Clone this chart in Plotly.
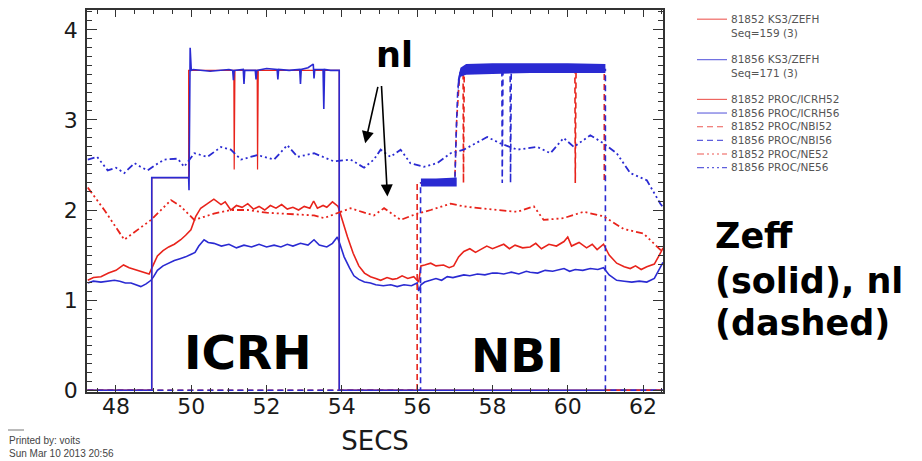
import plotly.graph_objects as go

# ---------------- data ----------------
names = ["81852 KS3/ZEFH", "81856 KS3/ZEFH", "81852 PROC/ICRH52", "81856 PROC/ICRH56",
         "81852 PROC/NBI52", "81856 PROC/NBI56", "81852 PROC/NE52", "81856 PROC/NE56"]
seq_labels = ["Seq=159 (3)", "Seq=171 (3)"]

zeff52_t = [47.25, 47.4, 47.6, 47.8, 48.0, 48.2, 48.35, 48.5, 48.7, 48.88, 49.0, 49.1, 49.25, 49.4,
            49.55, 49.72, 49.85, 49.99, 50.12, 50.25, 50.43, 50.6, 50.79, 50.9, 51.05, 51.2, 51.35,
            51.5, 51.65, 51.8, 51.95, 52.1, 52.25, 52.4, 52.55, 52.7, 52.85, 53.0, 53.15, 53.25, 53.35,
            53.5, 53.6, 53.75, 53.9, 54.0, 54.15, 54.3, 54.45, 54.6, 54.76, 54.9, 55.03, 55.2, 55.35,
            55.47, 55.6, 55.75, 55.91, 56.04, 56.1, 56.2, 56.36, 56.5, 56.7, 56.85, 56.97, 57.1, 57.24,
            57.4, 57.55, 57.68, 57.85, 58.0, 58.12, 58.3, 58.45, 58.6, 58.8, 59.0, 59.15, 59.3, 59.5,
            59.7, 59.9, 60.0, 60.1, 60.3, 60.5, 60.65, 60.78, 60.95, 61.1, 61.3, 61.5, 61.66, 61.8,
            61.95, 62.1, 62.3, 62.46, 62.53]
zeff52_v = [1.22, 1.25, 1.26, 1.30, 1.33, 1.39, 1.36, 1.34, 1.32, 1.29, 1.40, 1.49, 1.55, 1.59,
            1.62, 1.67, 1.72, 1.78, 1.93, 2.02, 2.07, 2.12, 2.06, 2.09, 2.00, 2.05, 2.03,
            2.07, 2.01, 2.04, 2.00, 2.05, 2.02, 2.06, 2.01, 2.03, 2.00, 2.04, 2.02, 2.10, 2.02,
            2.05, 2.03, 2.09, 2.04, 1.90, 1.70, 1.52, 1.38, 1.30, 1.26, 1.24, 1.22, 1.25, 1.23,
            1.24, 1.27, 1.24, 1.26, 1.20, 1.38, 1.39, 1.41, 1.38, 1.39, 1.36, 1.38, 1.48, 1.54,
            1.57, 1.53, 1.56, 1.60, 1.57, 1.59, 1.62, 1.57, 1.61, 1.58, 1.59, 1.63, 1.57, 1.62,
            1.60, 1.65, 1.70, 1.60, 1.64, 1.58, 1.62, 1.56, 1.62, 1.50, 1.41, 1.37, 1.35, 1.38,
            1.34, 1.37, 1.40, 1.52, 1.58]

zeff56_t = [47.25, 47.4, 47.6, 47.8, 47.96, 48.1, 48.25, 48.4, 48.55, 48.66, 48.8, 48.93, 49.0, 49.1,
            49.25, 49.4, 49.55, 49.7, 49.85, 50.0, 50.1, 50.2, 50.34, 50.45, 50.6, 50.8, 51.0, 51.2,
            51.4, 51.6, 51.8, 52.0, 52.2, 52.38, 52.55, 52.7, 52.9, 53.1, 53.26, 53.4, 53.6, 53.75,
            53.88, 53.95, 54.06, 54.2, 54.32, 54.45, 54.6, 54.76, 54.9, 55.1, 55.3, 55.47, 55.65,
            55.85, 56.0, 56.04, 56.1, 56.2, 56.36, 56.5, 56.65, 56.8, 56.95, 57.1, 57.24, 57.4, 57.6,
            57.8, 58.0, 58.12, 58.3, 58.5, 58.7, 58.9, 59.0, 59.2, 59.4, 59.6, 59.8, 59.9, 60.05,
            60.2, 60.4, 60.6, 60.8, 60.95, 61.1, 61.3, 61.5, 61.7, 61.9, 62.1, 62.3, 62.45, 62.53]
zeff56_v = [1.19, 1.21, 1.20, 1.21, 1.22, 1.21, 1.19, 1.19, 1.17, 1.15, 1.18, 1.22, 1.26, 1.33,
            1.38, 1.41, 1.44, 1.46, 1.48, 1.51, 1.53, 1.60, 1.67, 1.64, 1.63, 1.60, 1.62, 1.58,
            1.61, 1.59, 1.62, 1.59, 1.61, 1.59, 1.62, 1.60, 1.63, 1.61, 1.67, 1.61, 1.59, 1.63,
            1.70, 1.62, 1.48, 1.36, 1.27, 1.23, 1.20, 1.19, 1.17, 1.16, 1.17, 1.15, 1.17,
            1.16, 1.19, 1.10, 1.17, 1.20, 1.22, 1.24, 1.22, 1.26, 1.25, 1.27, 1.28, 1.27, 1.29,
            1.28, 1.30, 1.30, 1.29, 1.31, 1.29, 1.32, 1.31, 1.30, 1.33, 1.32, 1.34, 1.35, 1.32,
            1.34, 1.33, 1.35, 1.34, 1.36, 1.28, 1.22, 1.21, 1.20, 1.21, 1.20, 1.24, 1.35, 1.42]

icrh52_t = [47.24, 48.95, 48.95, 49.93, 49.93, 51.13, 51.14, 51.16, 51.75, 51.76, 51.78, 53.93, 53.93, 62.53]
icrh52_v = [0, 0, 2.36, 2.36, 3.55, 3.55, 2.45, 3.55, 3.55, 2.45, 3.55, 3.55, 0, 0]

icrh56_t = [47.24, 48.95, 48.95, 49.93, 49.94, 49.97, 50.0, 50.05, 50.5, 51.0, 51.1, 51.12, 51.14,
            51.3, 51.38, 51.4, 51.42, 51.7, 51.72, 51.74, 52.0, 52.28, 52.3, 52.32, 52.6, 52.88,
            52.9, 52.92, 53.1, 53.24, 53.26, 53.28, 53.5, 53.52, 53.54, 53.7, 53.93, 53.93, 62.53]
icrh56_v = [0, 0, 2.36, 2.36, 2.22, 3.80, 3.55, 3.56, 3.54, 3.56, 3.55, 3.44, 3.55,
            3.56, 3.56, 3.40, 3.55, 3.55, 3.45, 3.55, 3.57, 3.56, 3.45, 3.56, 3.55, 3.56,
            3.40, 3.56, 3.58, 3.62, 3.46, 3.56, 3.56, 3.12, 3.56, 3.55, 3.55, 0, 0]

nbi52_t = [47.24, 56.0, 56.0, 57.0, 57.05, 57.12, 57.2, 57.22, 57.23, 57.25, 60.19, 60.2, 60.22,
           60.97, 60.97, 60.98, 61.0, 62.53]
nbi52_v = [0, 0, 2.30, 2.32, 3.0, 3.45, 3.55, 3.55, 2.30, 3.55, 3.55, 2.30, 3.55,
           3.55, 2.30, None, 0, 0]

nbi56_t = [47.24, 56.09, 56.09, 57.0, 57.04, 57.08, 57.15, 58.25, 58.26, 58.28, 58.47, 58.48, 58.5,
           61.0, 61.0, 62.53]
nbi56_v = [0, 0, 2.30, 2.30, 2.9, 3.35, 3.55, 3.56, 2.30, 3.56, 3.56, 2.30, 3.56, 3.56, 0, 0]

# envelope of the fast-oscillating NBI56 signal (drawn as a thick band)
nbi56_lo_t = [56.1, 56.5, 57.05]
nbi56_lo_top = [2.35, 2.35, 2.36]
nbi56_lo_bot = [2.26, 2.26, 2.26]
nbi56_hi_t = [57.08, 57.15, 57.3, 58.0, 59.0, 60.0, 61.0]
nbi56_hi_top = [3.45, 3.58, 3.62, 3.63, 3.63, 3.63, 3.62]
nbi56_hi_bot = [3.30, 3.48, 3.50, 3.51, 3.52, 3.52, 3.52]

ne52_t = [47.25, 47.69, 48.22, 48.58, 48.93, 49.46, 49.72, 50.08, 50.6, 51.05, 51.49, 52.0, 52.38,
          52.8, 53.26, 53.52, 53.97, 54.23, 54.6, 54.85, 55.12, 55.56, 56.0, 56.36, 56.89, 57.24,
          58.12, 58.66, 59.1, 59.36, 59.89, 60.42, 60.95, 61.48, 62.01, 62.46, 62.53]
ne52_v = [2.25, 2.00, 1.67, 1.78, 1.89, 2.11, 2.04, 1.89, 1.96, 2.00, 2.00, 1.97, 1.96,
          1.95, 1.94, 1.91, 1.98, 2.02, 1.97, 1.94, 2.02, 1.89, 1.96, 2.00, 2.07, 2.04,
          2.00, 1.98, 2.04, 1.89, 1.91, 1.98, 1.93, 1.79, 1.74, 1.56, 1.53]

ne56_t = [47.25, 47.5, 47.78, 48.0, 48.22, 48.49, 48.65, 48.84, 49.05, 49.28, 49.64, 49.81, 50.08,
          50.43, 50.79, 51.05, 51.32, 51.76, 52.2, 52.55, 52.82, 53.26, 53.79, 54.23, 54.59, 54.85,
          55.03, 55.29, 55.56, 55.82, 56.18, 56.53, 56.89, 57.24, 57.86, 58.21, 58.66, 59.19, 59.54,
          59.89, 60.16, 60.6, 60.95, 61.3, 61.66, 62.1, 62.46, 62.53]
ne56_v = [2.56, 2.59, 2.44, 2.47, 2.41, 2.52, 2.48, 2.44, 2.50, 2.56, 2.57, 2.48, 2.63,
          2.59, 2.70, 2.67, 2.56, 2.61, 2.56, 2.72, 2.59, 2.63, 2.54, 2.56, 2.47, 2.56,
          2.67, 2.59, 2.67, 2.52, 2.48, 2.52, 2.63, 2.67, 2.81, 2.74, 2.67, 2.70, 2.63,
          2.80, 2.70, 2.83, 2.74, 2.63, 2.41, 2.33, 2.07, 2.03]

x_ticks = [48, 50, 52, 54, 56, 58, 60, 62]
y_ticks = [0, 1, 2, 3, 4]

# ---------------- styles ----------------
RED = "#e8231b"
BLUE = "#2a2ad2"
DASH = "6px,4px"
DASHDOT = "7px,3px,2px,3px,2px,3px,2px,3px"
FONT = "DejaVu Sans"

styles = [
    dict(color=RED, width=1.6, dash="solid"),
    dict(color=BLUE, width=1.6, dash="solid"),
    dict(color=RED, width=1.2, dash="solid"),
    dict(color=BLUE, width=1.6, dash="solid"),
    dict(color=RED, width=1.6, dash=DASH),
    dict(color=BLUE, width=1.6, dash=DASH),
    dict(color=RED, width=1.8, dash=DASHDOT),
    dict(color=BLUE, width=1.8, dash=DASHDOT),
]

series = [(zeff52_t, zeff52_v), (zeff56_t, zeff56_v), (icrh52_t, icrh52_v), (icrh56_t, icrh56_v),
          (nbi52_t, nbi52_v), (nbi56_t, nbi56_v), (ne52_t, ne52_v), (ne56_t, ne56_v)]

fig = go.Figure()
for i, (t, v) in enumerate(series):
    fig.add_trace(go.Scatter(x=t, y=v, mode="lines", name=names[i], line=styles[i],
                             showlegend=False, connectgaps=False))
    if i == 5:
        for bt, btop, bbot in [(nbi56_lo_t, nbi56_lo_top, nbi56_lo_bot),
                               (nbi56_hi_t, nbi56_hi_top, nbi56_hi_bot)]:
            fig.add_trace(go.Scatter(x=bt + bt[::-1], y=btop + bbot[::-1], mode="lines",
                                     fill="toself", fillcolor=BLUE, line=dict(width=0, color=BLUE),
                                     showlegend=False, hoverinfo="skip"))

# ---------------- layout ----------------
# the page body has an 8px margin; positions below are in window pixels
BODY = 8
WIN_W, WIN_H = 922, 461
W, H = WIN_W - BODY, WIN_H - BODY
PL, PR, PT, PB = 87, 663, 10, 392


def px_x(px):
    return (px - PL) / (PR - PL)


def px_y(py):
    return (PB - py) / (PB - PT)


axis_common = dict(showline=True, linecolor="#333333", linewidth=1.5, mirror="allticks",
                   ticks="inside", tickcolor="#333333", showgrid=False, zeroline=False,
                   tickfont=dict(family=FONT, size=22, color="#1a1a1a"))

fig.update_layout(
    width=W, height=H,
    margin=dict(l=PL - BODY, r=WIN_W - PR, t=PT - BODY, b=WIN_H - PB),
    paper_bgcolor="white", plot_bgcolor="white",
    xaxis=dict(range=[47.23, 62.53], tickvals=x_ticks, ticklen=7, tickwidth=1.3,
               minor=dict(dtick=0.5, tick0=48, ticklen=4, ticks="inside", tickcolor="#333333"),
               title=dict(text="SECS", font=dict(family=FONT, size=26, color="#1a1a1a"), standoff=14),
               ticklabelstandoff=-6, automargin=False, **axis_common),
    yaxis=dict(range=[-0.02, 4.22], tickvals=y_ticks, ticklen=10, tickwidth=1.3,
               minor=dict(dtick=0.1, tick0=0, ticklen=5, ticks="inside", tickcolor="#333333"),
               ticklabelstandoff=3, automargin=False, **axis_common),
    showlegend=False,
)

annotations = []
shapes = []

# manual legend: three text blocks, one sample line per text line
LEG_SIZE = 10.5
LINE_H = LEG_SIZE * 1.3
LEG_FONT = dict(family=FONT, size=LEG_SIZE, color="#555555")
blocks = [
    (26, [0], [names[0], seq_labels[0]]),
    (66.5, [1], [names[1], seq_labels[1]]),
    (133.5, [2, 3, 4, 5, 6, 7], names[2:]),
]
for center, idx, lines in blocks:
    n = len(lines)
    annotations.append(dict(xref="paper", yref="paper", x=px_x(729), y=px_y(center),
                            text="<br>".join(lines), showarrow=False, xanchor="left",
                            yanchor="middle", align="left", font=LEG_FONT))
    for k, i in enumerate(idx):
        yy = center + (k - (n - 1) / 2) * LINE_H
        st = styles[i]
        shapes.append(dict(type="line", xref="paper", yref="paper", x0=px_x(697), x1=px_x(727),
                           y0=px_y(yy), y1=px_y(yy),
                           line=dict(color=st["color"], width=1.1, dash=st["dash"]), opacity=0.75))

# big labels
big = dict(family=FONT, size=47, color="black")
annotations.append(dict(xref="paper", yref="paper", x=px_x(248), y=px_y(352), text="<b>ICRH</b>",
                        showarrow=False, xanchor="center", yanchor="middle", font=big))
annotations.append(dict(xref="paper", yref="paper", x=px_x(517), y=px_y(355), text="<b>NBI</b>",
                        showarrow=False, xanchor="center", yanchor="middle", font=big))
annotations.append(dict(xref="paper", yref="paper", x=px_x(394), y=px_y(55), text="<b>nl</b>",
                        showarrow=False, xanchor="center", yanchor="middle",
                        font=dict(family=FONT, size=35, color="black")))
side = dict(family=FONT, size=35, color="black")
for txt, yy in [("Zeff", 236), ("(solid), nl", 281), ("(dashed)", 323)]:
    annotations.append(dict(xref="paper", yref="paper", x=px_x(713), y=px_y(yy), text="<b>" + txt + "</b>",
                            showarrow=False, xanchor="left", yanchor="middle", font=side))

# arrows from "nl"
annotations.append(dict(xref="x", yref="y", x=54.62, y=2.74, ax=13, ay=-58, axref="pixel", ayref="pixel",
                        text="", showarrow=True, arrowhead=2, arrowsize=1.5, arrowwidth=1.6,
                        arrowcolor="black"))
annotations.append(dict(xref="x", yref="y", x=55.21, y=2.15, ax=-6, ay=-112, axref="pixel", ayref="pixel",
                        text="", showarrow=True, arrowhead=2, arrowsize=1.5, arrowwidth=1.6,
                        arrowcolor="black"))

# printed-by footer
shapes.append(dict(type="line", xref="paper", yref="paper", x0=px_x(7), x1=px_x(24),
                   y0=px_y(430), y1=px_y(430), line=dict(color="#777777", width=1)))
annotations.append(dict(xref="paper", yref="paper", x=px_x(7), y=px_y(446.5),
                        text="Printed by: voits<br>Sun Mar 10 2013 20:56",
                        showarrow=False, xanchor="left", yanchor="middle", align="left",
                        font=dict(family="Liberation Sans", size=10, color="#444444")))

fig.update_layout(annotations=annotations, shapes=shapes)
fig.write_html("out.html")
